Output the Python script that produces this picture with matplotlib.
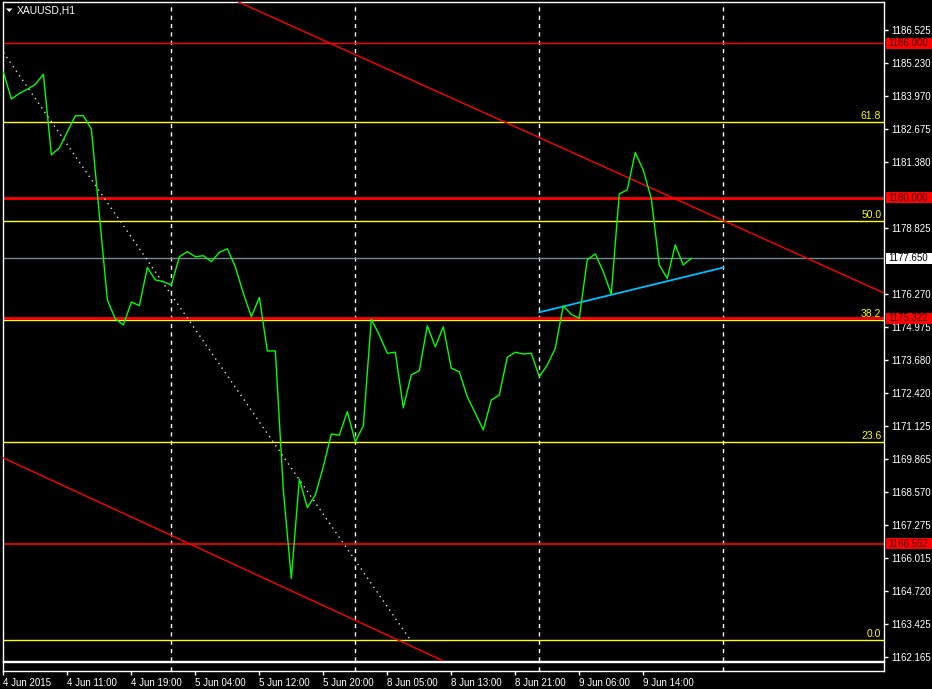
import matplotlib
matplotlib.use("Agg")
import matplotlib.pyplot as plt
from matplotlib.patches import Rectangle, Polygon
from matplotlib.transforms import blended_transform_factory

plt.rcParams['font.family'] = ['Liberation Sans', 'DejaVu Sans']

# H1 closes, bar 0 = first bar of 4 Jun 2015
closes = [1184.88, 1183.84, 1184.06, 1184.22, 1184.41, 1184.80, 1181.67, 1181.94,
          1182.57, 1183.19, 1183.19, 1182.67, 1179.33, 1176.03, 1175.29, 1175.06,
          1175.95, 1175.81, 1177.29, 1176.81, 1176.74, 1176.61, 1177.71, 1177.91,
          1177.71, 1177.75, 1177.52, 1177.88, 1178.02, 1177.32, 1176.29, 1175.38,
          1176.13, 1174.05, 1174.05, 1168.64, 1165.21, 1169.07, 1167.96, 1168.45,
          1169.55, 1170.82, 1170.78, 1171.69, 1170.52, 1171.14, 1175.28, 1174.67,
          1173.96, 1174.00, 1171.84, 1173.12, 1173.28, 1175.03, 1174.21, 1174.99,
          1173.38, 1173.24, 1172.27, 1171.63, 1170.98, 1172.14, 1172.34, 1173.80,
          1174.00, 1173.93, 1173.96, 1173.05, 1173.50, 1174.15, 1175.80, 1175.47,
          1175.32, 1177.59, 1177.82, 1177.13, 1176.26, 1180.15, 1180.31, 1181.76,
          1181.08, 1179.98, 1177.39, 1176.87, 1178.17, 1177.39, 1177.65]
bars = list(range(len(closes)))

time_tick_bars = [0, 8, 16, 24, 32, 40, 48, 56, 64, 72, 80]
time_tick_labels = ['4 Jun 2015', '4 Jun 11:00', '4 Jun 19:00', '5 Jun 04:00',
                    '5 Jun 12:00', '5 Jun 20:00', '8 Jun 05:00', '8 Jun 13:00',
                    '8 Jun 21:00', '9 Jun 06:00', '9 Jun 14:00']
grid_bars = [21, 44, 67, 90]

# 1180.1xx and 1177.5xx sit under the line labels, so they are left out
price_ticks = [1186.525, 1185.230, 1183.970, 1182.675, 1181.380,
               1178.825, 1176.270, 1174.975, 1173.680, 1172.420,
               1171.125, 1169.865, 1168.570, 1167.275, 1166.015, 1164.720,
               1163.425, 1162.165]

fib_names = ['0.0', '23.6', '38.2', '50.0', '61.8']
fib_prices = [1162.81, 1170.50, 1175.25, 1179.10, 1182.94]

red_levels = [1186.000, 1180.000, 1175.322, 1166.552]
red_widths = [1.0, 2.0, 2.0, 1.2]
last_price = 1177.650

upper_channel = [(29.4, 1187.61), (110.1, 1176.30)]
lower_channel = [(0.0, 1169.89), (54.6, 1162.06)]
fib_diag_x = [0.0, 50.9]
fib_diag_y = [1185.65, 1162.81]
support_x = [67, 90]
support_y = [1175.55, 1177.29]

W, H = 932, 689
fig = plt.figure(figsize=(W / 100, H / 100), dpi=100, facecolor='black')

def fx(px):
    return px / W

def fy(py):
    return 1 - py / H

ax = fig.add_axes([fx(3), fy(661), fx(884) - fx(3), fy(2) - fy(661)])
ax2 = fig.add_axes([fx(3), fy(671), fx(884) - fx(3), fy(662) - fy(671)], sharex=ax)

for a in (ax, ax2):
    a.set_facecolor('black')
    for s in a.spines.values():
        s.set_color('white')
        s.set_linewidth(1)

ax.set_xlim(-0.05, 110.1)
ax.set_ylim(1162.00, 1187.61)

for b in grid_bars:
    ax.axvline(b, color='white', lw=1, ls=(0, (3, 3)), zorder=1)
    ax2.axvline(b, color='white', lw=1, ls=(0, (3, 3)), zorder=1)

for p in fib_prices:
    ax.axhline(p, color='yellow', lw=1, zorder=2)
for p, w in zip(red_levels, red_widths):
    ax.axhline(p, color='red', lw=w, zorder=2)
ax.axhline(last_price, color='#778899', lw=1, zorder=2)

ax.axline(upper_channel[0], upper_channel[1], color='red', lw=1, zorder=3)
ax.axline(lower_channel[0], lower_channel[1], color='red', lw=1, zorder=3)
ax.plot(fib_diag_x, fib_diag_y, color='#dddddd', lw=1, ls=(0, (1, 3)), zorder=3)
ax.plot(support_x, support_y, color='#00bfff', lw=1.3, zorder=3)

ax.plot(bars, closes, color='#00ff00', lw=1, zorder=4)

# fib level labels
for name, p in zip(fib_names, fib_prices):
    ax.annotate(name, xy=(1, p), xycoords=('axes fraction', 'data'),
                xytext=(-2, 1), textcoords='offset points',
                ha='right', va='bottom', color='yellow', fontsize=7.5)

# price axis
ax.yaxis.tick_right()
ax.set_yticks(price_ticks)
ax.set_yticklabels(['%.3f' % v for v in price_ticks])
ax.tick_params(axis='y', colors='white', labelcolor='white', length=3, width=1,
               pad=2, labelsize=7)
ax.tick_params(axis='x', length=0, labelbottom=False)

ax2.set_yticks([])
ax2.set_xticks(time_tick_bars)
ax2.set_xticklabels(time_tick_labels)
ax2.tick_params(axis='x', colors='white', labelcolor='white', length=3, width=1,
                pad=2, labelsize=7)
for lab in ax2.get_xticklabels():
    lab.set_ha('left')

# price label boxes on the axis
tr = blended_transform_factory(fig.transFigure, ax.transData)
half = 5.5 * 0.03887
for p in red_levels:
    ax.add_patch(Rectangle((fx(886), p - half), 1 - fx(886), 2 * half,
                           transform=tr, facecolor='red', edgecolor='none',
                           clip_on=False, zorder=10))
    ax.text(fx(888), p, '%.3f' % p, transform=tr, color='#3a0000', fontsize=7,
            ha='left', va='center', clip_on=False, zorder=11)
ax.add_patch(Rectangle((fx(886), last_price - half), 1 - fx(886), 2 * half,
                       transform=tr, facecolor='white', edgecolor='none',
                       clip_on=False, zorder=10))
ax.text(fx(888), last_price, '%.3f' % last_price, transform=tr, color='black',
        fontsize=7, ha='left', va='center', clip_on=False, zorder=11)

# title
fig.patches.append(Polygon([[fx(6), fy(8.5)], [fx(12.5), fy(8.5)], [fx(9.25), fy(12)]],
                           closed=True, facecolor='white', edgecolor='none',
                           transform=fig.transFigure))
fig.text(fx(17), fy(10.5), 'XAUUSD,H1', color='white', fontsize=7.5,
         ha='left', va='center')

fig.savefig('out.png', dpi=100, facecolor='black')
